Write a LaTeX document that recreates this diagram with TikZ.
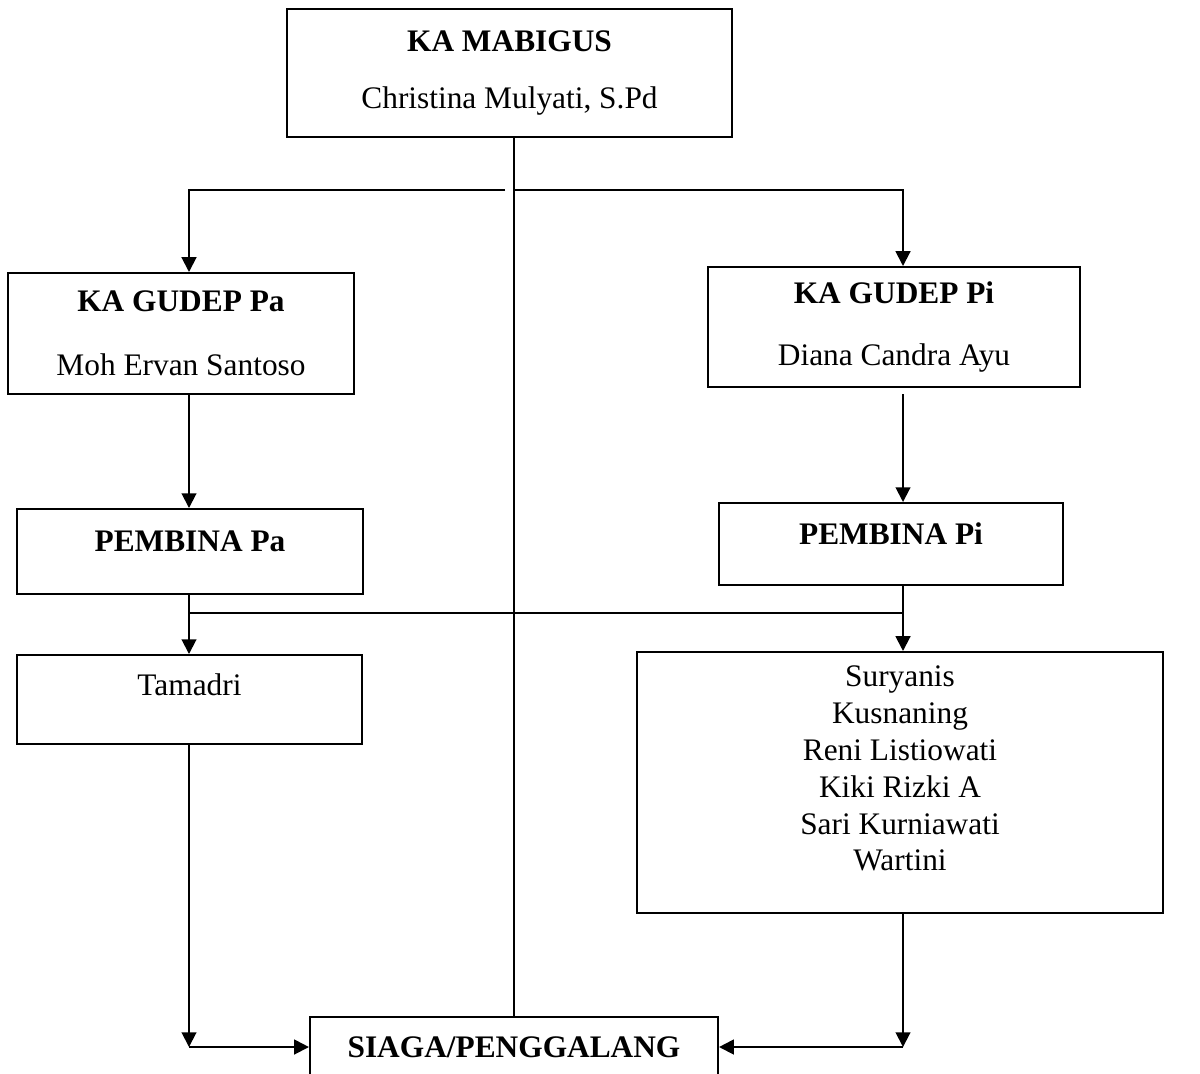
\documentclass[tikz,border=0pt]{standalone}
\usepackage{fontspec}
\setmainfont{Liberation Serif}
\usetikzlibrary{arrows.meta}

\tikzset{
	box/.style={draw, line width=1.4pt, align=center, inner sep=0pt, font=\fontsize{22.3}{26.2}\selectfont},
	link/.style={line width=1.4pt},
	arr/.style={link, -{Triangle[width=10.5pt,length=10.5pt]}}
}

\begin{document}
\begin{tikzpicture}[x=0.025cm, y=-0.025cm]
	\useasboundingbox (0,0) rectangle (1200,1073);

	\node[box, minimum width=11.125cm, minimum height=3.2cm] (mabigus) at (509.5,73) {\textbf{KA MABIGUS}\\[14.6pt]Christina Mulyati, S.Pd};
	\node[box, minimum width=8.65cm, minimum height=3.025cm] (gudeppa) at (181,333.5) {\textbf{KA GUDEP Pa}\\[19.5pt]Moh Ervan Santoso};
	\node[box, minimum width=9.3cm, minimum height=3cm] (gudeppi) at (894,327) {\textbf{KA GUDEP Pi}\\[18pt]Diana Candra Ayu};
	\node[box, minimum width=8.65cm, minimum height=2.125cm, text height=15pt, text depth=15pt] (pembinapa) at (190,551.5) {\textbf{PEMBINA Pa}};
	\node[box, minimum width=8.6cm, minimum height=2.05cm, text height=15pt, text depth=15pt] (pembinapi) at (891,544) {\textbf{PEMBINA Pi}};
	\node[box, minimum width=8.625cm, minimum height=2.225cm, text height=15pt, text depth=21pt] (tamadri) at (189.5,699.5) {Tamadri};
	\node[box, minimum width=13.15cm, minimum height=6.525cm, text depth=20pt] (anggota) at (900,782.5) {Suryanis\\Kusnaning\\Reni Listiowati\\Kiki Rizki A\\Sari Kurniawati\\Wartini};
	\node[box, minimum width=10.2cm, minimum height=1.5cm] (siaga) at (514,1047) {\textbf{SIAGA/PENGGALANG}};

	\coordinate (colPa) at (189,0);
	\coordinate (colPi) at (903,0);
	\coordinate (splitL) at (505,190);
	\coordinate (splitR) at (513,190);
	\coordinate (bar) at (0,613);
	\coordinate (low) at (0,1047);

	\draw[link, line width=1pt] (mabigus.south -| siaga.north) -- (siaga.north);
	\draw[arr] (splitL) -| (gudeppa.north -| colPa);
	\draw[arr] (splitR) -| (gudeppi.north -| colPi);
	\draw[arr] (gudeppa.south -| colPa) -- (pembinapa.north -| colPa);
	\draw[arr, shorten <=0.15cm] (gudeppi.south -| colPi) -- (pembinapi.north -| colPi);
	\draw[arr] (pembinapa.south -| colPa) -- (tamadri.north -| colPa);
	\draw[arr] (pembinapi.south -| colPi) -- (anggota.north -| colPi);
	\draw[link] (colPa |- bar) -- (colPi |- bar);
	\draw[arr] (tamadri.south -| colPa) -- (colPa |- low);
	\draw[arr] (colPa |- low) -- (siaga.west);
	\draw[arr] (anggota.south -| colPi) -- (colPi |- low);
	\draw[arr] (colPi |- low) -- (siaga.east);
\end{tikzpicture}
\end{document}
